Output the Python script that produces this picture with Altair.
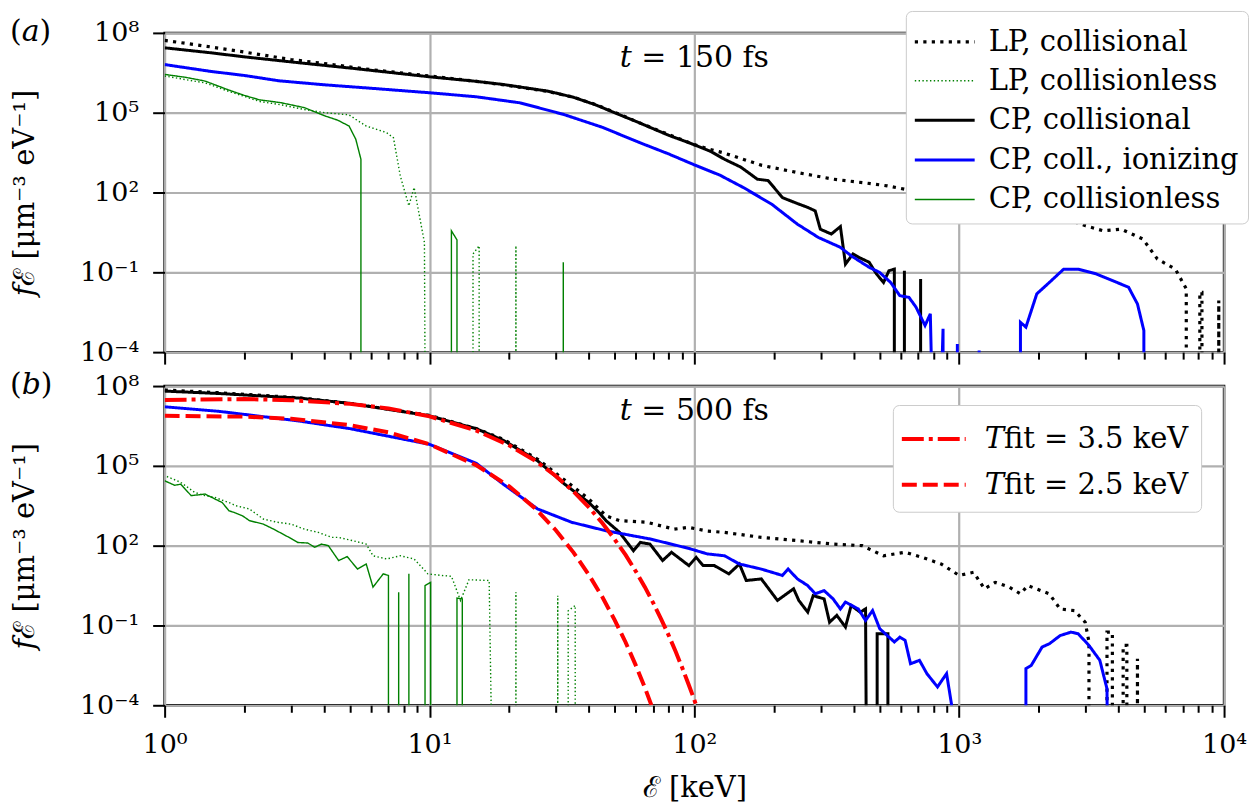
import pandas as pd
import altair as alt

SERIF = "DejaVu Serif"
FLOOR = 1e-12  # empty bins: drawn far below the axis, as matplotlib does with log-clipped zeros

# --- series names and styles ---
LP_COLL = "LP, collisional"
LP_LESS = "LP, collisionless"
CP_COLL = "CP, collisional"
CP_ION = "CP, coll., ionizing"
CP_LESS = "CP, collisionless"
series_names = [LP_COLL, LP_LESS, CP_COLL, CP_ION, CP_LESS]
series_colors = ["black", "green", "black", "blue", "green"]
series_dash = [[3.2, 5.3], [1.4, 2.4], [1, 0], [1, 0], [1, 0]]
series_width = [3.2, 1.4, 3, 3, 1.4]

FIT35 = "𝑇fit = 3.5 keV"
FIT25 = "𝑇fit = 2.5 keV"
fit_names = [FIT35, FIT25]
fit_dash = [[22, 5, 4, 5], [15, 6]]

# --- panel (a), t = 150 fs : energy [keV] / log10 f (None = empty bin) ---
a_lpc_E = [1, 1.5, 2, 3, 4, 6, 10, 15, 20, 28, 35, 42, 50, 62, 80, 100, 115, 130, 180, 245,
           335, 450, 535, 625, 800, 1000, 1200, 1370, 1700, 2190, 2640, 3000, 3500, 4090, 4940,
           5600, 6550, 7200, 7200, 8100, 8100, 8250, 8250, 9550, 9550, 9550]
a_lpc_f = [7.72, 7.47, 7.28, 7.0, 6.85, 6.62, 6.38, 6.18, 6.02, 5.8, 5.58, 5.32, 5.02, 4.62, 4.18,
           3.8, 3.62, 3.48, 3.02, 2.75, 2.5, 2.35, 2.25, 2.12, 1.95, 1.75, 1.5, 1.31, 1.12, 0.88,
           0.94, 0.75, 0.56, 0.62, 0.25, -0.5, -0.88, -1.62, None, None, -1.75, -1.75, None, None,
           -2.06, None]

a_lpl_E = [1, 1.42, 1.75, 2.29, 2.74, 3.37, 4.03, 4.97, 5.27, 5.77, 6.89, 7.31, 7.76, 8.36, 8.75,
           9.57, 9.7, 14.6, 14.6, 15.4, 15.4, 21.2, 21.2, 21.2]
a_lpl_f = [6.38, 6.12, 5.8, 5.42, 5.3, 5.12, 5.0, 4.92, 4.75, 4.5, 4.25, 4.06, 2.62, 1.5, 2.19,
           0.12, None, None, -0.31, 0.0, None, None, 0.0, None]

a_cpc_E = [1, 1.5, 2, 3.2, 5, 7, 10, 15, 19, 28, 35, 42, 50, 62, 80, 95, 115, 130, 150, 173,
           190, 215, 240, 268, 286, 299, 329, 356, 372, 397, 420, 457, 487, 518, 543, 569, 569,
           621, 621, 621, 715, 715, 715]
a_cpc_f = [7.44, 7.25, 7.1, 6.88, 6.68, 6.52, 6.35, 6.18, 6.06, 5.81, 5.58, 5.31, 5.0, 4.62, 4.15,
           3.88, 3.55, 3.25, 2.95, 2.5, 2.45, 1.81, 1.62, 1.44, 1.31, 0.62, 0.44, 0.72, -0.69,
           -0.31, -0.45, -0.62, -1.06, -1.38, -0.94, -0.88, None, None, -0.94, None, None, -1.25,
           None]

a_cpi_E = [1, 1.5, 2, 2.7, 4, 6, 10, 15, 22, 32, 45, 62, 80, 100, 125, 153, 196, 245, 294, 356,
           391, 457, 500, 551, 597, 646, 687, 743, 778, 817, 817, 869, 869, 984, 984, 984, 1189,
           1189, 1189, 1703, 1703, 1786, 1963, 2190, 2480, 2810, 3290, 4360, 4710, 4980, 4980]
a_cpi_f = [6.81, 6.55, 6.4, 6.2, 6.05, 5.92, 5.75, 5.6, 5.37, 4.94, 4.45, 3.88, 3.45, 3.04, 2.65,
           2.19, 1.56, 0.81, 0.31, -0.06, -0.38, -0.81, -1.0, -1.38, -1.88, -1.94, -2.31, -3.0,
           -2.56, None, None, -3.12, None, None, -3.69, None, None, -3.94, None, None, -2.88,
           -3.06, -1.81, -1.38, -0.88, -0.88, -1.06, -1.56, -2.19, -3.19, None]

a_cpl_E = [1, 1.2, 1.42, 1.75, 2.0, 2.29, 2.74, 3.37, 4.03, 4.5, 4.97, 5.27, 5.51, 5.51, 12.1,
           12.1, 12.7, 12.7, 32, 32, 32]
a_cpl_f = [6.44, 6.33, 6.19, 5.85, 5.65, 5.48, 5.38, 5.19, 4.88, 4.72, 4.5, 4.0, 3.25, None, None,
           0.56, 0.22, None, None, -0.62, None]

# --- panel (b), t = 500 fs ---
b_lpc_E = [1, 1.6, 3.2, 5, 10, 15, 19, 25.6, 31.5, 40, 46.4, 52.2, 66, 84, 95, 112, 130, 179,
           244, 334, 430, 518, 625, 730, 855, 1000, 1133, 1245, 1368, 1540, 1703, 1816, 2188,
           2405, 2722, 2990, 3090, 3090, 3614, 3614, 3787, 3787, 4159, 4159, 4295, 4295, 4710,
           4710, 4710]
b_lpc_f = [7.85, 7.75, 7.56, 7.35, 6.9, 6.4, 6.0, 5.25, 4.56, 3.75, 3.12, 2.94, 2.88, 2.62, 2.69,
           2.55, 2.5, 2.31, 2.19, 2.06, 2.0, 1.62, 1.75, 1.55, 1.31, 0.88, 1.0, 0.38, 0.62, 0.45,
           0.19, 0.5, 0.19, -0.38, -0.44, -0.88, -1.62, None, None, -1.25, -1.25, None, None,
           -1.75, -1.75, None, None, -2.25, None]

b_lpl_E = [1.02, 1.15, 1.3, 1.42, 1.55, 1.75, 1.86, 2.09, 2.36, 2.66, 3.0, 3.37, 3.8, 4.28, 4.54,
           5.12, 5.77, 6.12, 6.89, 7.76, 8.75, 9.86, 11.1, 12.1, 13.1, 14.1, 16.8, 17.6, 21.2,
           21.2, 21.2, 30.5, 30.5, 30.5, 33.4, 33.4, 35.5, 35.5]
b_lpl_f = [4.6, 4.38, 4.0, 3.88, 3.81, 3.62, 3.5, 3.38, 3.0, 2.88, 2.81, 2.62, 2.5, 2.31, 2.31,
           2.19, 2.06, 1.62, 1.5, 1.62, 1.5, 0.94, 0.88, 0.85, -0.06, 0.72, 0.69, None, None,
           0.25, None, None, 0.12, None, None, -0.45, -0.25, None]

b_cpc_E = [1, 1.6, 3.2, 5, 10, 15, 19, 25.6, 32.4, 40, 43.6, 46.4, 52.2, 58.9, 62.5, 68, 75.9,
           82, 95.4, 101.6, 108, 119, 135, 148, 157, 179, 206, 237, 248, 268, 281, 309, 324,
           345, 372, 391, 423, 443, 450, 490, 490, 538, 538]
b_cpc_f = [7.81, 7.72, 7.55, 7.35, 6.88, 6.4, 5.96, 5.19, 4.31, 3.62, 3.25, 2.94, 2.5, 1.81,
           2.12, 2.06, 1.44, 1.75, 1.25, 1.56, 1.25, 1.25, 0.94, 1.31, 0.69, 0.75, -0.06, 0.38,
           -0.06, -0.5, 0.12, 0.0, -0.88, -0.62, -1.06, -0.25, -0.5, -0.38, None, None, -1.31,
           -1.31, None]

b_cpi_E = [1, 1.6, 3.2, 5, 10, 15, 19, 25.6, 34.4, 46.4, 68.2, 95, 112, 130, 148, 179, 215,
           226, 245, 268, 286, 309, 334, 356, 372, 416, 443, 471, 501, 569, 597, 625, 655, 708,
           755, 828, 896, 935, 940, 1786, 1786, 1871, 2056, 2188, 2405, 2642, 2812, 3090, 3396,
           3614, 3672]
b_cpi_f = [7.22, 7.05, 6.69, 6.4, 5.81, 5.1, 4.31, 3.38, 2.88, 2.56, 2.25, 1.9, 1.69, 1.62,
           1.31, 1.12, 0.88, 1.12, 0.75, 0.5, 0.19, 0.31, 0.0, -0.38, -0.12, -0.38, -0.81, -0.44,
           -1.12, -1.62, -1.44, -1.56, -2.44, -2.31, -2.81, -3.31, -2.81, -3.95, None, None,
           -2.62, -2.5, -1.81, -1.69, -1.38, -1.25, -1.31, -1.75, -2.31, -3.38, None]

b_cpl_E = [1, 1.09, 1.15, 1.26, 1.42, 1.65, 1.75, 1.83, 1.97, 2.09, 2.36, 2.58, 2.95, 3.18, 3.47,
           3.69, 3.91, 4.15, 4.54, 4.89, 5.35, 5.77, 6.12, 6.69, 7.0, 7.0, 7.65, 7.65, 7.65, 8.36,
           8.36, 8.36, 9.62, 9.62, 10.1, 10.1, 12.7, 12.7, 13.3, 13.3]
b_cpl_f = [4.44, 4.27, 4.31, 3.88, 3.94, 3.62, 3.31, 3.25, 3.12, 2.94, 2.81, 2.62, 2.31, 2.12,
           2.1, 1.94, 2.06, 2.0, 1.44, 1.59, 1.12, 1.31, 0.44, 0.94, 0.88, None, None, 0.25, None,
           None, 0.94, None, None, 0.5, 0.62, None, None, 0.03, 0.0, None]

# --- fitted distributions shown in (b) ---
fit35_E = [1, 2, 3, 5, 7, 10, 15, 20, 25, 30, 35, 40, 45, 50, 55, 60, 65, 70, 75, 80, 85, 90,
           95, 100, 102]
fit35_f = [7.48, 7.51, 7.47, 7.33, 7.16, 6.86, 6.33, 5.77, 5.2, 4.62, 4.03, 3.44, 2.84, 2.24,
           1.65, 1.05, 0.45, -0.16, -0.77, -1.37, -1.98, -2.59, -3.2, -3.8, -4.05]
fit25_E = [1, 2, 3, 5, 7, 10, 15, 20, 25, 30, 35, 40, 45, 50, 55, 60, 65, 70]
fit25_f = [6.88, 6.85, 6.77, 6.53, 6.26, 5.81, 5.03, 4.23, 3.41, 2.58, 1.74, 0.9, 0.06, -0.79,
           -1.63, -2.48, -3.33, -4.19]


def frame(pieces):
    rows = []
    for name, E, lf in pieces:
        for k, (e, v) in enumerate(zip(E, lf)):
            rows.append({"series": name, "E": e, "f": FLOOR if v is None else 10.0 ** v, "i": k})
    return pd.DataFrame(rows)


df_a = frame([(LP_COLL, a_lpc_E, a_lpc_f), (LP_LESS, a_lpl_E, a_lpl_f),
              (CP_COLL, a_cpc_E, a_cpc_f), (CP_ION, a_cpi_E, a_cpi_f),
              (CP_LESS, a_cpl_E, a_cpl_f)])
df_b = frame([(LP_COLL, b_lpc_E, b_lpc_f), (LP_LESS, b_lpl_E, b_lpl_f),
              (CP_COLL, b_cpc_E, b_cpc_f), (CP_ION, b_cpi_E, b_cpi_f),
              (CP_LESS, b_cpl_E, b_cpl_f)])
df_fit = frame([(FIT35, fit35_E, fit35_f), (FIT25, fit25_E, fit25_f)])

# --- axes ---
x_scale = alt.Scale(type="log", domain=[1, 10000], nice=False)
y_scale = alt.Scale(type="log", domain=[1e-4, 1e8], nice=False)

x_ticks = [m * 10 ** d for d in range(4) for m in range(1, 10)] + [10000]
DECADE = "abs(log(datum.value) / LN10 - round(log(datum.value) / LN10)) < 0.001"
X_LABELS = ("datum.value == 1 ? '10⁰' : datum.value == 10 ? '10¹' : datum.value == 100 ? '10²'"
            " : datum.value == 1000 ? '10³' : datum.value == 10000 ? '10⁴' : ''")
Y_LABELS = ("datum.value == 100000000 ? '10⁸' : datum.value == 100000 ? '10⁵'"
            " : datum.value == 100 ? '10²' : datum.value == 0.1 ? '10⁻¹'"
            " : datum.value == 0.0001 ? '10⁻⁴' : ''")


def x_axis(with_labels):
    opts = dict(values=x_ticks, grid=True, domain=False, tickWidth=2,
                tickSize={"condition": {"test": DECADE, "value": 12}, "value": 7},
                gridOpacity={"condition": {"test": DECADE, "value": 1}, "value": 0},
                labelFlush=False, labelOverlap=False)
    if with_labels:
        opts.update(labelExpr=X_LABELS, labelPadding=14, title="ℰ  [keV]", titlePadding=16)
    else:
        opts.update(labels=False, title=None)
    return alt.Axis(**opts)


y_axis = alt.Axis(values=[1e-4, 0.1, 100, 1e5, 1e8], labelExpr=Y_LABELS, grid=True, domain=False,
                  tickSize=12, tickWidth=2, labelPadding=14, labelFlush=False, labelOverlap=False,
                  title="𝑓ℰ  [μm⁻³ eV⁻¹]", titlePadding=40)


def xy(with_labels):
    return dict(x=alt.X("E:Q", scale=x_scale, axis=x_axis(with_labels)),
                y=alt.Y("f:Q", scale=y_scale, axis=y_axis))


def lines(df, with_labels, legend):
    style = {} if legend is not None else {"legend": None}
    return alt.Chart(df).mark_line(clip=True, strokeCap="butt").encode(
        color=alt.Color("series:N", scale=alt.Scale(domain=series_names, range=series_colors),
                        legend=legend),
        strokeDash=alt.StrokeDash("series:N",
                                  scale=alt.Scale(domain=series_names, range=series_dash),
                                  **style),
        strokeWidth=alt.StrokeWidth("series:N",
                                    scale=alt.Scale(type="ordinal", domain=series_names,
                                                    range=series_width),
                                    **style),
        order=alt.Order("i:Q"),
        **xy(with_labels),
    )


def annotate(text, f_pos, with_labels):
    return alt.Chart(pd.DataFrame({"E": [100], "f": [f_pos], "label": [text]})).mark_text(
        font=SERIF, fontSize=30, align="center", baseline="middle"
    ).encode(text="label:N", **xy(with_labels))


def panel_label(text):
    return alt.Chart(pd.DataFrame({"label": [text]})).mark_text(
        font=SERIF, fontSize=30, align="left", baseline="middle"
    ).encode(x=alt.value(-155), y=alt.value(-1), text="label:N")


# line symbols longer than the legend rows are tall
legend_a = alt.Legend(title=None, orient="none", legendX=743, legendY=-22, fillColor="white",
                      strokeColor="#cccccc", cornerRadius=6, padding=9,
                      symbolType="M-1.5,0H1.5", symbolSize=1600, symbolOffset=8,
                      labelFont=SERIF, labelFontSize=29, labelOffset=22, rowPadding=3,
                      labelLimit=400)

legend_b = alt.Legend(title=None, orient="none", legendX=730, legendY=19, fillColor="white",
                      strokeColor="#cccccc", cornerRadius=6, padding=12,
                      symbolType="M-1.6,0H1.6", symbolSize=1600, symbolOffset=7,
                      symbolStrokeWidth=4, labelFont=SERIF, labelFontSize=29, labelOffset=29,
                      rowPadding=9, labelLimit=400)

fits = alt.Chart(df_fit).mark_line(clip=True, strokeCap="butt", strokeWidth=4).encode(
    color=alt.Color("series:N", scale=alt.Scale(domain=fit_names, range=["red", "red"]),
                    legend=legend_b),
    strokeDash=alt.StrokeDash("series:N", scale=alt.Scale(domain=fit_names, range=fit_dash)),
    order=alt.Order("i:Q"),
    **xy(True),
)

panel_a = alt.layer(
    lines(df_a, False, legend_a), annotate("𝑡 = 150 fs", 1.15e7, False), panel_label("(𝑎)")
).properties(width=1062, height=320)

panel_b = alt.layer(
    lines(df_b, True, None), fits, annotate("𝑡 = 500 fs", 1.15e7, True), panel_label("(𝑏)")
).resolve_scale(
    color="independent", strokeDash="independent", strokeWidth="independent"
).properties(width=1062, height=320)

chart = alt.vconcat(panel_a, panel_b, spacing=34, bounds="flush", padding=0).resolve_scale(
    color="independent", strokeDash="independent", strokeWidth="independent"
).configure_view(
    stroke="black", strokeWidth=2.5
).configure_axis(
    labelFont=SERIF, labelFontSize=27, labelColor="black",
    titleFont=SERIF, titleFontSize=29, titleColor="black", titleFontWeight="normal",
    tickColor="black", gridColor="#b0b0b0", gridWidth=2.2,
)

chart.save("out.html", embed_options={"renderer": "svg", "actions": False})
